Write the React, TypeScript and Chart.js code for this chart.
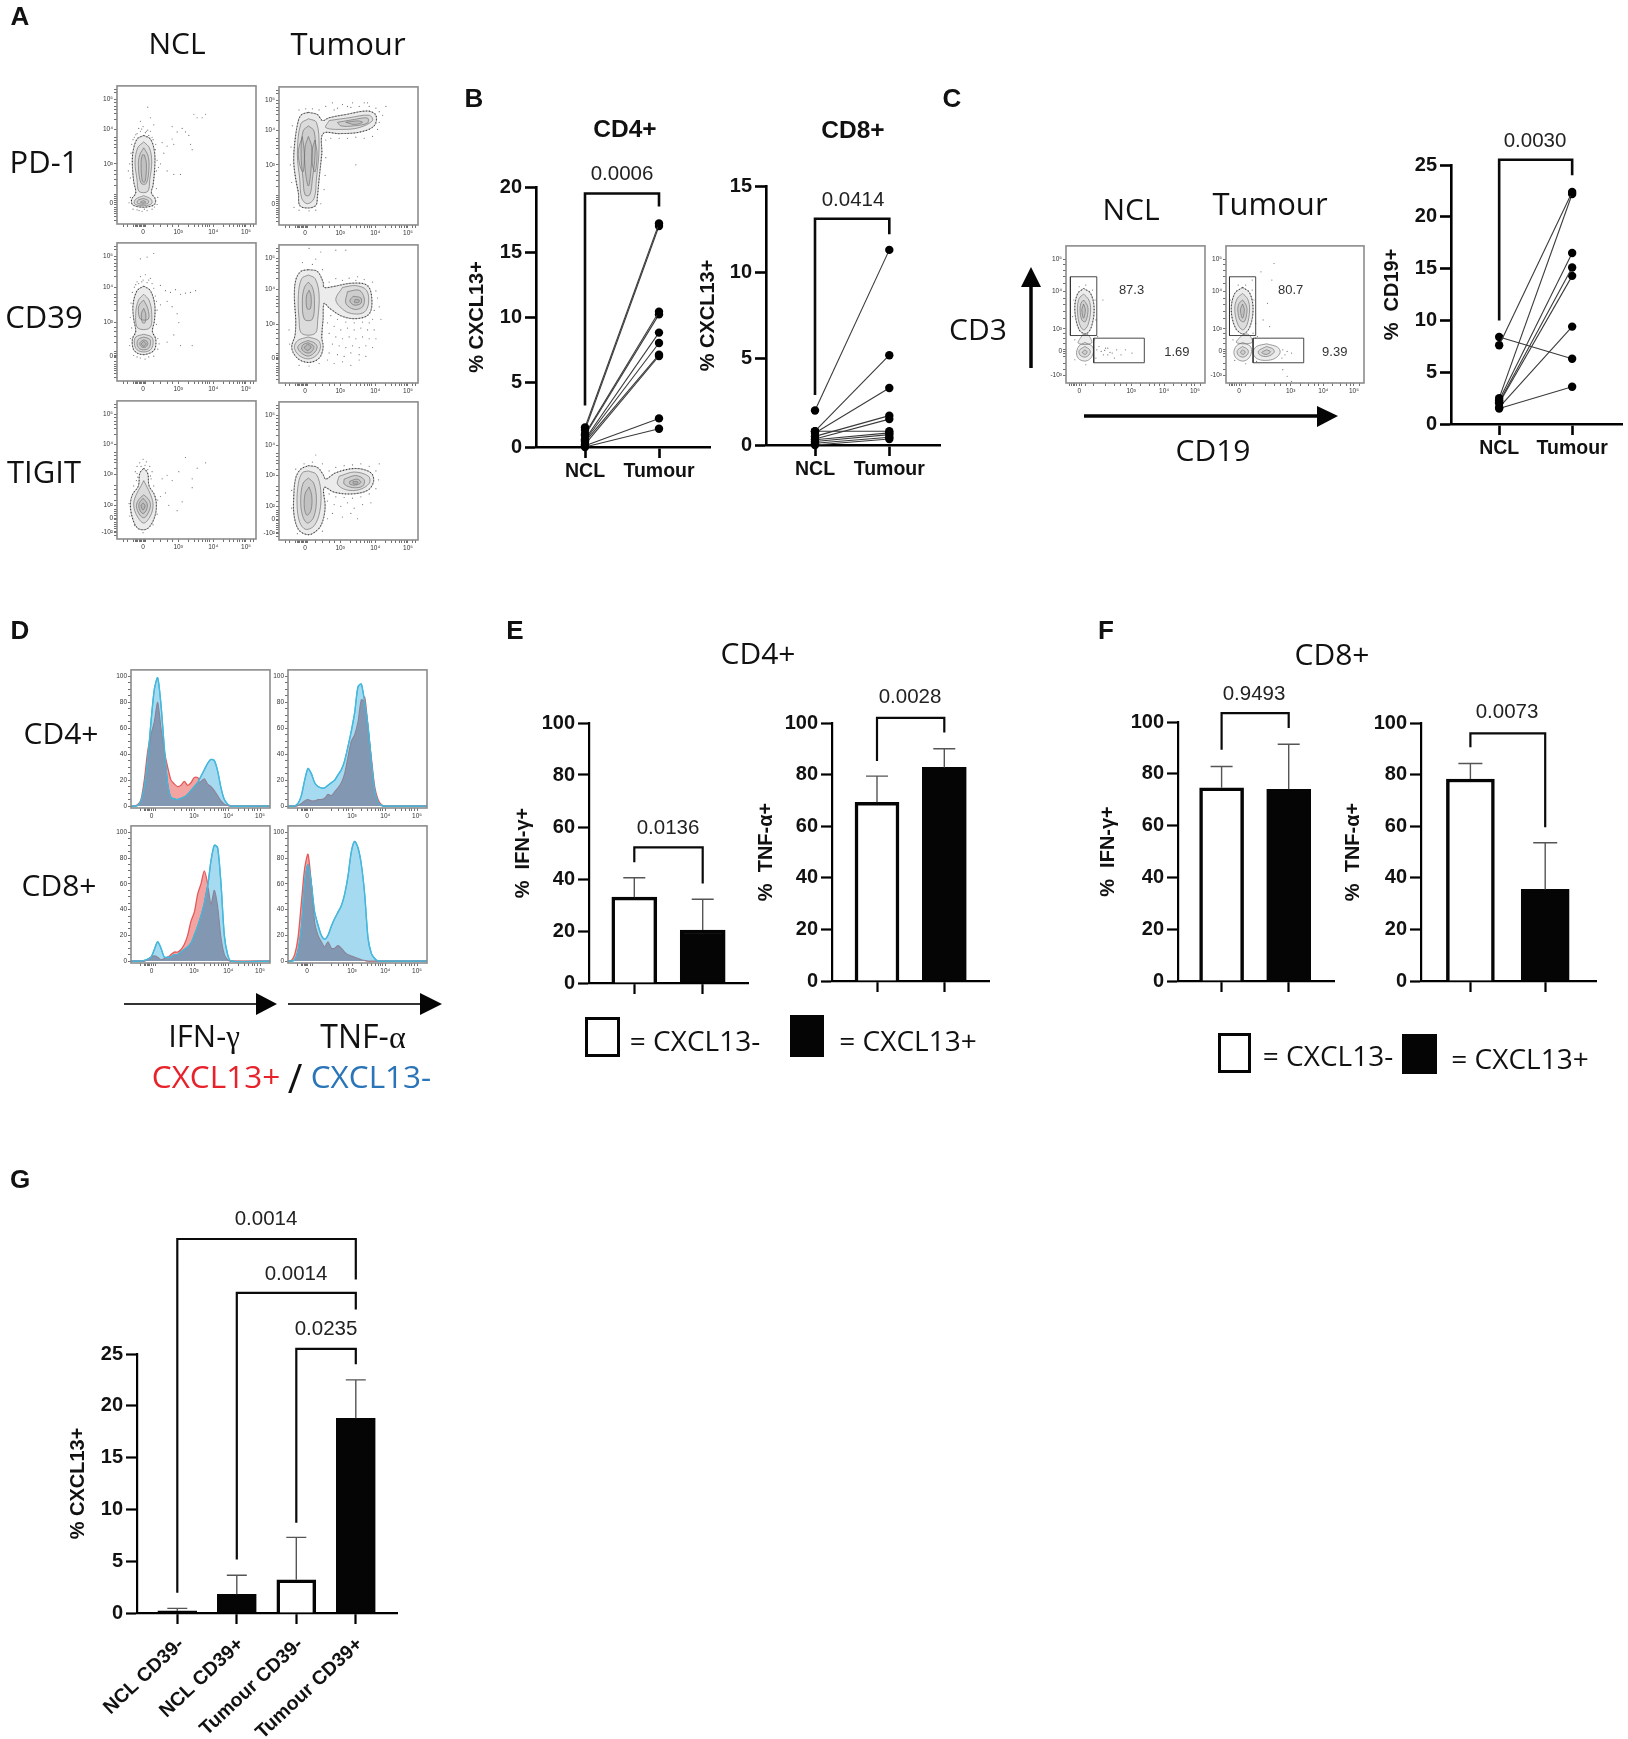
import React, { useEffect, useRef } from 'react';
import { Chart, registerables } from 'chart.js';
Chart.register(...registerables);

const sans = '"Liberation Sans", Arial, sans-serif';
const human = '"Open Sans", sans-serif';

// ---------- Paired data (B, C) ----------
const pairLabels = ['NCL', 'Tumour'];
const cd4Ncl = [1.5, 1.3, 1.0, 0.9, 0.6, 0.5, 0.4, 0.2, 0.1, 0];
const cd4Tumour = [17.2, 17, 10.4, 10.2, 8.8, 8, 7.1, 7, 2.2, 1.4];
const cd8Ncl = [2, 0.8, 0.7, 0.8, 0.5, 0.35, 0.3, 0.2, 0.1, 0];
const cd8Tumour = [11.3, 5.2, 3.3, 0.8, 1.7, 1.5, 0.7, 0.6, 0.45, 0.35];
const cd19Ncl = [7.6, 2.5, 2.3, 2.1, 2.0, 1.6, 8.4, 1.5];
const cd19Tumour = [22.4, 22.2, 16.5, 15.1, 14.3, 9.4, 6.3, 3.6];

// ---------- Bars (E, F, G) ----------
const eIfnMeans = [33, 20.4];
const eIfnTops = [40.5, 32.2];
const eTnfMeans = [69.3, 82.8];
const eTnfTops = [79.4, 90];
const fIfnMeans = [74.6, 74];
const fIfnTops = [82.8, 91.4];
const fTnfMeans = [78.3, 35.5];
const fTnfTops = [84.3, 53.6];
const gLabels = ['NCL CD39-', 'NCL CD39+', 'Tumour CD39-', 'Tumour CD39+'];
const gMeans = [0.2, 1.8, 3.2, 18.8];
const gTops = [0.45, 3.65, 7.3, 22.5];
const whiteBlack = ['#fff', '#050505'];
const gFills = ['#050505', '#050505', '#fff', '#050505'];

// ---------- Histograms (D) ----------
const histChannels = [0,10,20,30,40,50,60,70,80,90,100,110,120,130,140,150,160,170,180,190,200,210,220,230,240,250,260,270,280,290,300,417];
const cd4IfnBlue = [0,0,0.5,4,15,35,65,90,99,78,45,17,6.5,5.5,5,6,7,9,12,15,18,23,28,33,36,35,27,14,5,1.5,0,0];
const cd4IfnRed = [0,0,1,5,20,42,55,65,80,60,42,30,20,17,15,16,19,16,18,22,22,19,21,17,15,12,8,4,1.5,0.5,0,0];
const cd4TnfBlue = [0,0,0,2,8,20,29,25,18,15,14,14,16,18,20,24,28,35,46,58,72,92,94,80,62,35,12,3,0.5,0,0,0];
const cd4TnfRed = [0,0,0,0.5,2,4,5,4,4,5,5,6,9,8,11,14,18,25,38,50,55,65,82,84,60,37,15,5,1,0,0,0];
const cd8IfnBlue = [0,0,0,0,0.5,1.5,3,9,15,10,3,3,3,5,5,7,9,11,14,20,27,35,45,58,78,90,88,60,20,5,0,0];
const cd8IfnRed = [0,0,0,0,0,1,3,4,3,1,2,3,5,7,7,9,13,20,31,38,52,60,70,60,44,55,42,18,5,1,0,0];
const cd8TnfBlue = [0,0,1,8,25,60,75,60,38,28,20,17,20,27,33,38,43,52,66,85,93,88,75,52,18,6,2,0,0,0,0,0];
const cd8TnfRed = [0,0.5,5,18,45,72,83,60,30,20,15,11,15,10,10,12,10,7,5,4,3,2,1,0.5,0,0,0,0,0,0,0,0];
const histYMajor = [0,20,40,60,80,100];
const histYMinor = [5,10,15,25,30,35,45,50,55,65,70,75,85,90,95];
const histXLeft: [number,string][] = [[62,'0'],[189,'10³'],[292,'10⁴'],[387,'10⁵']];
const histXRight: [number,string][] = [[57,'0'],[192,'10³'],[292,'10⁴'],[387,'10⁵']];
const histXMinor = [28,40,44,48,52,56,68,72,130,150,165,175,182,220,238,250,262,270,277,283,323,341,353,363,371,378];

const flowXTicks: [number,string][] = [[78,'0'],[183,'10³'],[288,'10⁴'],[386,'10⁵']];
const flowXMinor = [20,32,50,54,58,62,66,70,74,82,86,110,130,150,165,215,233,245,257,265,272,278,320,338,350,360,368,375,381,400,410];
const flowYTicks: [number,string][] = [[60,'0'],[170,'10³'],[267,'10⁴'],[352,'10⁵']];
const flowYTicks2: [number,string][] = [[69,'0'],[165,'10³'],[264,'10⁴'],[352,'10⁵']];
const flowYTicks3: [number,string][] = [[18,'-10²'],[58,'0'],[95,'10²'],[183,'10³'],[268,'10⁴'],[353,'10⁵']];
const flowYMinor = [10,20,30,36,42,48,54,66,72,78,84,110,125,140,150,200,215,225,235,245,295,312,322,332,342,370,380];

const pd1NclContours = [
  [[80,250],[100,240],[112,205],[113,160],[108,110],[103,88],[115,70],[112,55],[90,48],[68,48],[46,55],[44,70],[56,88],[50,120],[46,165],[48,205],[60,240]],
  [[80,232],[97,215],[104,175],[98,125],[92,92],[66,92],[60,125],[54,175],[62,215]],
  [[80,215],[92,195],[96,165],[88,115],[72,115],[64,165],[68,195]],
  [[82,195],[88,170],[84,120],[76,120],[72,170],[76,195]],
  [[80,80],[102,70],[104,58],[88,52],[68,52],[52,58],[56,70]],
  [[80,72],[94,66],[92,58],[72,56],[60,60],[64,68]],
  [[80,66],[86,62],[78,59],[70,62]],
];
const pd1NclDots = [[60,255],[70,262],[85,258],[95,250],[105,245],[52,245],[65,270],[78,275],[92,265],[100,262],[115,210],[120,180],[118,150],[42,200],[38,170],[40,130],[118,100],[122,75],[40,75],[36,60],[120,55],[60,40],[90,38],[75,36],[105,42],[48,42],[135,230],[150,220],[165,275],[180,260],[165,240],[170,225],[195,270],[205,260],[215,250],[220,225],[230,310],[240,300],[255,300],[265,310],[150,150],[170,140],[190,140],[225,210],[92,330],[100,300],[70,290],[110,280],[130,170],[140,200],[56,252],[74,268],[88,262],[108,238],[116,225],[44,225],[48,238],[124,160],[34,150],[112,48],[66,38],[82,42]];
const cd39NclContours = [
  [[80,268],[100,255],[113,215],[112,170],[106,140],[116,118],[112,88],[90,76],[68,76],[50,88],[46,118],[56,140],[50,175],[48,215],[60,255]],
  [[80,245],[96,228],[104,190],[98,150],[62,150],[56,190],[64,228]],
  [[80,228],[92,205],[94,175],[70,175],[64,205],[70,220]],
  [[80,205],[86,190],[84,165],[76,165],[73,190]],
  [[80,132],[104,124],[108,105],[100,88],[80,82],[60,88],[52,105],[56,124]],
  [[80,124],[98,118],[100,105],[94,92],[80,88],[66,92],[60,105],[64,118]],
  [[80,116],[90,112],[92,105],[86,96],[74,96],[68,105],[72,112]],
  [[80,112],[87,105],[80,98],[73,105]],
];
const cd39NclDots = [[60,280],[70,295],[85,300],[95,285],[105,275],[52,265],[78,285],[65,275],[100,290],[115,240],[120,200],[118,160],[42,220],[40,180],[122,120],[40,120],[38,100],[122,90],[50,72],[70,65],[95,68],[110,70],[130,270],[145,255],[160,250],[175,258],[190,245],[205,248],[220,250],[235,255],[150,225],[165,210],[180,190],[185,165],[170,130],[150,110],[190,100],[225,100],[90,350],[70,345],[110,360],[130,215],[56,272],[74,280],[90,278],[110,262],[46,250],[118,225],[44,150],[126,105],[60,68],[84,62]];
const tigitNclContours = [
  [[80,200],[92,185],[96,150],[112,125],[118,95],[112,60],[95,32],[78,26],[60,32],[46,60],[40,95],[46,125],[64,150],[68,185]],
  [[80,165],[88,150],[102,122],[108,95],[100,65],[80,45],[60,65],[50,95],[56,122],[72,150]],
  [[80,125],[96,110],[100,92],[90,68],[80,60],[68,68],[58,92],[64,110]],
  [[78,115],[90,100],[88,82],[78,72],[68,82],[66,100]],
  [[78,102],[84,94],[78,82],[72,94]],
];
const tigitNclDots = [[60,205],[68,215],[78,225],[88,218],[98,205],[55,190],[105,190],[62,175],[102,170],[110,150],[50,150],[122,110],[36,100],[120,70],[38,65],[108,40],[52,38],[78,18],[135,170],[150,180],[165,165],[185,190],[205,230],[225,170],[240,200],[265,215],[225,145],[195,105],[180,80],[155,95],[130,120],[145,130],[72,205],[84,208],[92,196],[60,185],[100,178],[58,165]];
const pd1TumContours = [
  [[88,318],[115,312],[130,295],[150,303],[200,312],[265,322],[290,310],[285,280],[240,262],[180,258],[132,258],[128,200],[120,130],[115,80],[110,55],[85,48],[62,55],[58,90],[50,130],[44,180],[48,240],[58,295],[68,312]],
  [[88,300],[112,290],[120,220],[112,130],[105,75],[85,60],[68,75],[62,130],[55,200],[65,285]],
  [[88,280],[105,265],[108,200],[100,130],[92,85],[78,85],[72,130],[66,200],[72,265]],
  [[88,250],[98,220],[96,160],[88,110],[78,160],[78,220]],
  [[70,250],[76,200],[72,150],[62,170],[58,210]],
  [[108,240],[114,200],[108,150],[100,170],[100,215]],
  [[150,295],[210,303],[270,310],[280,295],[240,275],[190,270],[140,275]],
  [[175,290],[225,298],[265,302],[265,288],[225,280],[185,280]],
  [[200,290],[235,294],[250,290],[225,284]],
];
const pd1TumDots = [[140,335],[160,345],[175,330],[190,340],[205,335],[220,345],[240,335],[255,345],[270,335],[290,330],[300,320],[310,310],[300,290],[295,270],[280,250],[255,245],[230,248],[205,245],[180,245],[155,245],[140,240],[165,325],[215,332],[265,345],[120,325],[60,325],[80,328],[100,328],[40,280],[36,220],[34,170],[38,120],[140,190],[138,140],[135,100],[125,60],[45,50],[60,42],[90,40],[110,42],[230,170],[320,335]];
const cd39TumContours = [
  [[88,320],[115,315],[132,285],[135,270],[160,272],[220,282],[265,275],[278,235],[270,195],[235,182],[190,188],[150,212],[135,225],[132,180],[128,130],[132,100],[120,70],[88,58],[55,70],[38,100],[48,135],[50,180],[46,240],[50,290],[65,315]],
  [[88,305],[108,295],[120,250],[116,180],[108,140],[68,140],[60,180],[58,250],[68,295]],
  [[88,285],[100,270],[106,235],[100,180],[76,180],[70,235],[76,270]],
  [[90,262],[96,245],[94,210],[84,210],[82,245]],
  [[87,130],[118,120],[124,100],[112,78],[87,68],[60,78],[46,100],[56,120]],
  [[87,120],[108,112],[114,100],[104,84],[87,76],[68,84],[56,100],[66,112]],
  [[87,114],[102,106],[104,98],[94,86],[80,86],[68,96],[72,108]],
  [[86,110],[96,102],[86,92],[76,100]],
  [[190,270],[230,275],[262,262],[268,225],[255,200],[225,195],[195,205],[170,235]],
  [[205,258],[240,262],[255,240],[250,215],[225,208],[200,225]],
  [[222,245],[245,240],[245,225],[225,220],[212,232]],
  [[228,236],[240,234],[238,228],[226,228]],
];
const cd39TumDots = [[150,285],[170,295],[190,290],[210,296],[235,300],[255,292],[280,285],[290,260],[295,240],[285,205],[280,180],[300,215],[305,180],[270,170],[250,172],[225,170],[200,172],[175,180],[155,190],[145,170],[165,160],[185,150],[205,155],[225,150],[245,155],[265,150],[285,150],[150,140],[170,130],[190,125],[210,130],[230,125],[250,130],[270,125],[290,125],[160,110],[180,105],[200,100],[220,105],[240,100],[260,105],[280,100],[150,85],[175,80],[195,75],[215,85],[240,80],[260,75],[145,65],[165,55],[190,60],[215,50],[240,65],[110,350],[100,335],[70,340],[130,320],[90,380],[125,370],[170,375],[200,375],[230,290],[30,150],[32,110],[90,48],[60,50],[120,55]];
const tigitTumContours = [
  [[88,210],[115,205],[132,185],[140,172],[170,190],[230,202],[275,190],[283,165],[265,140],[215,130],[165,135],[135,148],[138,90],[125,40],[100,18],[80,16],[58,30],[45,70],[44,120],[50,175],[65,200]],
  [[88,195],[112,185],[125,140],[122,80],[105,40],[80,30],[62,50],[54,100],[58,160],[70,190]],
  [[88,175],[104,160],[112,115],[104,65],[85,48],[70,70],[65,115],[72,160]],
  [[90,150],[98,125],[96,85],[84,70],[76,90],[78,130]],
  [[180,180],[225,192],[268,180],[270,160],[240,142],[200,142],[175,158]],
  [[195,172],[230,182],[255,170],[250,152],[220,148],[195,158]],
  [[212,166],[235,172],[245,162],[228,155],[212,158]],
  [[222,165],[236,164],[232,158],[222,160]],
];
const tigitTumDots = [[150,195],[170,205],[195,210],[220,212],[245,215],[270,208],[290,195],[298,170],[290,145],[270,130],[245,122],[220,118],[195,120],[170,122],[150,130],[145,110],[165,100],[185,95],[205,105],[225,90],[250,100],[275,105],[160,75],[190,65],[215,75],[235,60],[145,60],[130,215],[100,220],[75,215],[50,200],[38,140],[38,90],[130,25],[55,18],[110,240],[300,215]];

const cXTicks: [number,string][] = [[30,'0'],[148,'10³'],[223,'10⁴'],[293,'10⁵']];
const cYTicks: [number,string][] = [[23,'-10³'],[95,'0'],[163,'10³'],[276,'10⁴'],[373,'10⁵']];
const cXMinor = [8,12,16,20,24,36,44,62,90,110,125,138,170,190,202,212,245,262,275,285,305];
const cYMinor = [40,60,80,88,102,120,135,150,195,215,235,255,300,320,340,358];
const cNclContours = [
  [[40,285],[56,270],[64,225],[58,170],[46,148],[30,160],[20,220],[26,268]],
  [[40,268],[52,250],[56,220],[50,175],[40,160],[30,180],[26,225],[30,255]],
  [[40,250],[48,235],[50,215],[44,185],[36,190],[32,220],[34,240]],
  [[40,238],[44,220],[40,195],[36,220]],
  [[38,146],[50,146],[58,120],[28,120]],
  [[43,122],[60,110],[62,90],[54,72],[42,66],[28,74],[24,92],[30,112]],
  [[43,110],[54,100],[54,88],[44,78],[32,84],[30,98]],
  [[43,100],[48,94],[44,86],[37,92]],
];
const cNclDots = [[30,290],[45,295],[60,280],[18,250],[66,250],[15,200],[68,190],[72,140],[20,130],[65,130],[68,75],[20,70],[45,55],[70,100],[80,95],[90,105],[95,85],[105,90],[115,100],[125,85],[135,100],[85,85],[75,110],[110,75],[150,90],[95,105],[88,98],[100,92],[84,250]];
const cTumContours = [
  [[38,288],[54,272],[62,225],[55,170],[40,148],[22,165],[12,220],[20,270]],
  [[38,270],[50,252],[54,220],[48,175],[38,160],[26,180],[20,225],[26,255]],
  [[38,250],[46,235],[48,215],[42,185],[32,190],[27,220],[30,240]],
  [[38,238],[42,220],[38,195],[33,220]],
  [[38,146],[52,146],[60,122],[24,122]],
  [[38,122],[56,110],[58,90],[50,72],[38,66],[24,74],[18,92],[24,112]],
  [[38,110],[50,100],[50,88],[40,78],[28,84],[26,98]],
  [[38,100],[44,94],[40,86],[33,92]],
  [[93,118],[118,108],[124,92],[112,74],[90,68],[70,74],[62,92],[70,110]],
  [[93,110],[108,102],[110,92],[95,80],[78,84],[74,96]],
  [[93,100],[102,94],[92,86],[82,92]],
];
const cTumDots = [[28,295],[45,295],[60,280],[10,250],[64,250],[8,200],[68,180],[72,140],[16,130],[68,135],[62,150],[70,65],[20,68],[45,58],[130,100],[135,85],[140,95],[150,90],[128,75],[60,310],[80,335],[105,310],[85,190],[100,170],[130,40],[140,20],[150,5],[110,360],[95,240]];
const cGateUpperNcl = [[10,143],[70,143],[70,320],[10,320],[10,143]];
const cGateLowerNcl = [[63,61],[178,61],[178,135],[63,135],[63,61]];
const cGateUpperTum = [[8,143],[68,143],[68,320],[8,320],[8,143]];
const cGateLowerTum = [[62,61],[178,61],[178,135],[62,135],[62,61]];

// ---------- helpers ----------
type Geo = { x0:number; x1:number; y0:number; y1:number; labelX?:number; padL?:number; padT:number; padR:number; padB:number };
const boxOf = (g:Geo) => {
  const padL = g.labelX !== undefined ? g.x0 - (g.labelX - 12) : (g.padL as number);
  return { padL, left:g.x0 - padL, top:g.y0 - g.padT, width:g.x1 - g.x0 + padL + g.padR, height:g.y1 - g.y0 + g.padT + g.padB };
};
const line = (pts:number[][], color:string, width:number, extra:any = {}) => ({
  type:'line', data:pts.map(([x,y]) => ({x,y})), borderColor:color, borderWidth:width, pointRadius:0, fill:false, clip:false, tension:0, ...extra,
});
const base = (g:Geo, scales:any, plugins:any = {}) => {
  const b = boxOf(g);
  scales.x.afterFit = (s:any) => { s.height = g.padB; };
  scales.y.afterFit = (s:any) => { s.width = b.padL; };
  return {
    responsive:false, maintainAspectRatio:false, animation:false, devicePixelRatio:1, events:[],
    layout:{ padding:{ top:g.padT, right:g.padR, left:0, bottom:0 } },
    plugins:{ legend:{display:false}, tooltip:{enabled:false}, title:{display:false}, ...plugins },
    scales,
  };
};
const prismScales = (g:Geo, p0:number, gap:number, xLabels:string[], yMax:number, yStep:number, yTitle:string, w:number, rot = 0, labelPad = 2, labelShift = 0) => ({
  x: {
    type:'linear', offset:false, min:(g.x0 - p0) / gap, max:(g.x1 - p0) / gap,
    afterBuildTicks:(s:any) => { s.ticks = xLabels.map((_, i) => ({ value:i })); },
    grid:{ display:true, drawOnChartArea:false, drawTicks:true, tickLength:11, tickWidth:w, tickColor:'#000', offset:false },
    border:{ display:true, color:'#000', width:w },
    ticks:{ autoSkip:false, minRotation:rot, maxRotation:rot, padding:labelPad, labelOffset:labelShift, color:'#111', font:{ family:sans, size:19.5, weight:'bold' }, callback:(v:any) => xLabels[Math.round(v)] ?? '' },
  },
  y: {
    type:'linear', min:0, max:yMax,
    grid:{ display:true, drawOnChartArea:false, drawTicks:true, tickLength:11, tickWidth:w, tickColor:'#000' },
    border:{ display:true, color:'#000', width:w },
    ticks:{ stepSize:yStep, padding:3, color:'#111', font:{ family:sans, size:20, weight:'bold' } },
    title:{ display:true, text:yTitle, color:'#111', padding:0, font:{ family:sans, size:20, weight:'bold' } },
  },
});
const bracket = (xa:number, bottomA:number, top:number, xb:number, bottomB:number, w = 2.6) =>
  line([[xa,bottomA],[xa,top],[xb,top],[xb,bottomB]], '#0a0a0a', w, { borderJoinStyle:'miter' });

function pairedConfig(g:Geo, p0:number, gap:number, ncl:number[], tumour:number[], yMax:number, yStep:number, yTitle:string, br:number[]) {
  const b = boxOf(g);
  const pairs = ncl.map((n, i) => line([[0,n],[1,tumour[i]]], '#3a3a3a', 1.1, { pointRadius:4.2, pointBackgroundColor:'#000', pointBorderColor:'#000', pointBorderWidth:0 }));
  return { b, config:{ type:'line', data:{ datasets:[bracket(0, br[0], br[1], 1, br[2]), ...pairs] }, options:base(g, prismScales(g, p0, gap, pairLabels, yMax, yStep, yTitle, 2.6)) } };
}
function barConfig(g:Geo, p0:number, gap:number, means:number[], tops:number[], fills:string[], barPx:number, capPx:number, yMax:number, yStep:number, yTitle:string, brackets:number[][], xLabels:string[] = ['', ''], rot = 0, labelPad = 2, labelShift = 0) {
  const b = boxOf(g);
  const c = capPx / 2 / gap;
  const errs = means.map((m, i) => line([[i,m],[i,tops[i]],[i - c,tops[i]],[i + c,tops[i]]], '#555', 1.4, { borderJoinStyle:'miter' }));
  const brs = brackets.map((r) => bracket(r[0], r[1], r[2], r[3], r[4], 2.2));
  const bars = { type:'bar', data:means.map((y, i) => ({ x:i, y })), backgroundColor:fills, borderColor:'#050505', borderWidth:3.5, barThickness:barPx, borderSkipped:'bottom' };
  return { b, config:{ type:'bar', data:{ datasets:[...brs, ...errs, bars] }, options:base(g, prismScales(g, p0, gap, xLabels, yMax, yStep, yTitle, 2.2, rot, labelPad, labelShift)) } };
}
const framePlugin = { id:'frame', afterDatasetsDraw(chart:any) {
  const a = chart.chartArea, ctx = chart.ctx;
  ctx.save(); ctx.strokeStyle = '#8c8c8c'; ctx.lineWidth = 1.6; ctx.strokeRect(a.left, a.top, a.right - a.left, a.bottom - a.top); ctx.restore();
} };
const notesPlugin = (notes:any[]) => ({ id:'notes', afterDatasetsDraw(chart:any) {
  const ctx = chart.ctx; ctx.save(); ctx.fillStyle = '#333'; ctx.font = `13px ${sans}`; ctx.textAlign = 'center'; ctx.textBaseline = 'middle';
  notes.forEach((n) => ctx.fillText(n.text, chart.scales.x.getPixelForValue(n.x), chart.scales.y.getPixelForValue(n.y)));
  ctx.restore();
} });
const tinyScale = (min:number, max:number, major:[number,string][], minor:number[]) => {
  const map = new Map(major.map(([v, l]) => [v, l]));
  const all = [...major.map(([v]) => v), ...minor].sort((p, q) => p - q);
  return {
    type:'linear', min, max, offset:false,
    afterBuildTicks:(s:any) => { s.ticks = all.map((value) => ({ value })); },
    grid:{ display:true, drawOnChartArea:false, drawTicks:true, tickLength:3, tickWidth:0.7, tickColor:'#333', offset:false },
    border:{ display:false },
    ticks:{ autoSkip:false, maxRotation:0, minRotation:0, padding:1, color:'#333', font:{ family:sans, size:6.5 }, callback:(v:any) => map.get(v) ?? '' },
  };
};
function flowConfig(g:Geo, xMax:number, yMax:number, xT:[number,string][], xM:number[], yT:[number,string][], yM:number[], contours:number[][][], dots:number[][], gates:number[][][] = [], notes:any[] = []) {
  const b = boxOf(g);
  const ds:any[] = [];
  gates.forEach((q) => ds.push(line(q, '#333', 0.9)));
  ds.push({ type:'scatter', data:dots.map(([x, y]) => ({ x, y })), pointRadius:0.6, pointBorderWidth:0, pointBackgroundColor:'rgba(40,40,40,0.65)', clip:false });
  const shapes:any[] = [];
  contours.forEach((q, i) => {
    const closed = [...q, q[0]];
    shapes.unshift(line(closed, 'rgba(105,105,105,0.8)', 0.8, { tension:0.35, fill:'shape', backgroundColor:'rgba(120,120,120,0.14)' }));
    if (i === 0) ds.push(line(closed, 'rgba(30,30,30,0.8)', 1.1, { tension:0.35, borderDash:[0.9, 2.2] }));
  });
  return { b, config:{ type:'scatter', data:{ datasets:[...ds, ...shapes] }, options:base(g, { x:tinyScale(0, xMax, xT, xM), y:tinyScale(0, yMax, yT, yM) }), plugins:[framePlugin, notesPlugin(notes)] } };
}
function histConfig(g:Geo, red:number[], blue:number[], xT:[number,string][]) {
  const b = boxOf(g);
  const pts = (v:number[]) => histChannels.map((c, i) => [c, v[i]]);
  const overlap = red.map((v, i) => Math.min(v, blue[i]));
  const fillOf = (color:string) => ({ fill:'origin', backgroundColor:color, tension:0.25 });
  const ds = [
    line(pts(blue), '#45b8dc', 1.3, { tension:0.25 }),
    line(pts(overlap), '#8c8296', 1.1, fillOf('#8298b2')),
    line(pts(blue), '#45b8dc', 1.3, fillOf('#a6daf0')),
    line(pts(red), '#e45a5a', 1.3, fillOf('#f4a3a3')),
  ];
  const yT = histYMajor.map((v) => [v, String(v)] as [number,string]);
  return { b, config:{ type:'line', data:{ datasets:ds }, options:base(g, { x:tinyScale(0, 417, xT, histXMinor), y:tinyScale(-1.5, 105, yT, histYMinor) }), plugins:[framePlugin] } };
}
const fg = (x0:number, y0:number, w = 139, h = 139):Geo => ({ x0, x1:x0 + w, y0, y1:y0 + h, padL:26, padT:4, padR:4, padB:16 });

const panels = [
  // A
  flowConfig(fg(117,85), 416, 390, flowXTicks, flowXMinor, flowYTicks, flowYMinor, pd1NclContours, pd1NclDots),
  flowConfig(fg(279,86), 416, 390, flowXTicks, flowXMinor, flowYTicks, flowYMinor, pd1TumContours, pd1TumDots),
  flowConfig(fg(117,242), 416, 390, flowXTicks, flowXMinor, flowYTicks2, flowYMinor, cd39NclContours, cd39NclDots),
  flowConfig(fg(279,244), 416, 390, flowXTicks, flowXMinor, flowYTicks2, flowYMinor, cd39TumContours, cd39TumDots),
  flowConfig(fg(117,400), 416, 390, flowXTicks, flowXMinor, flowYTicks3, flowYMinor, tigitNclContours, tigitNclDots),
  flowConfig(fg(279,401), 416, 390, flowXTicks, flowXMinor, flowYTicks3, flowYMinor, tigitTumContours, tigitTumDots),
  // B
  pairedConfig({ x0:536, x1:710, y0:187, y1:447, labelX:477, padT:26, padR:12, padB:40 }, 585, 74, cd4Ncl, cd4Tumour, 20, 5, '% CXCL13+', [3.2, 19.5, 18.5]),
  pairedConfig({ x0:766, x1:940, y0:186, y1:445, labelX:708, padT:26, padR:12, padB:40 }, 815, 74.3, cd8Ncl, cd8Tumour, 15, 5, '% CXCL13+', [2.9, 13.1, 12.2]),
  // C
  flowConfig(fg(1066,245,139,138), 316, 413, cXTicks, cXMinor, cYTicks, cYMinor, cNclContours, cNclDots, [cGateUpperNcl, cGateLowerNcl], [{ x:149, y:280, text:'87.3' }, { x:252, y:93, text:'1.69' }]),
  flowConfig(fg(1226,245,138,138), 316, 413, cXTicks, cXMinor, cYTicks, cYMinor, cTumContours, cTumDots, [cGateUpperTum, cGateLowerTum], [{ x:148, y:280, text:'80.7' }, { x:249, y:93, text:'9.39' }]),
  pairedConfig({ x0:1451, x1:1624, y0:165, y1:424, labelX:1392, padT:26, padR:3, padB:40 }, 1499.5, 73.5, cd19Ncl, cd19Tumour, 25, 5, '%  CD19+', [10, 25.5, 24]),
  // D
  histConfig({ x0:131, x1:270, y0:669, y1:808, padL:24, padT:4, padR:4, padB:16 }, cd4IfnRed, cd4IfnBlue, histXLeft),
  histConfig({ x0:288, x1:427, y0:669, y1:808, padL:16, padT:4, padR:4, padB:16 }, cd4TnfRed, cd4TnfBlue, histXRight),
  histConfig({ x0:131, x1:270, y0:825, y1:963, padL:24, padT:4, padR:4, padB:16 }, cd8IfnRed, cd8IfnBlue, histXLeft),
  histConfig({ x0:288, x1:427, y0:825, y1:963, padL:16, padT:4, padR:4, padB:16 }, cd8TnfRed, cd8TnfBlue, histXRight),
  // E
  barConfig({ x0:589, x1:748, y0:723, y1:983, labelX:523, padT:30, padR:6, padB:16 }, 634.3, 68.4, eIfnMeans, eIfnTops, whiteBlack, 45, 22, 100, 20, '%  IFN-γ+', [[0, 46.4, 52.2, 1, 38.3]]),
  barConfig({ x0:832, x1:989, y0:723, y1:981, labelX:766, padT:30, padR:6, padB:16 }, 877, 67.3, eTnfMeans, eTnfTops, whiteBlack, 44, 22, 100, 20, '%  TNF-α+', [[0, 85.3, 102, 1, 96.3]]),
  // F
  barConfig({ x0:1178, x1:1334, y0:722, y1:981, labelX:1108, padT:30, padR:6, padB:16 }, 1221.6, 67.1, fIfnMeans, fIfnTops, whiteBlack, 44, 22, 100, 20, '%  IFN-γ+', [[0, 89.3, 103.4, 1, 97.7]]),
  barConfig({ x0:1421, x1:1596, y0:723, y1:981, labelX:1353, padT:30, padR:6, padB:16 }, 1470.4, 74.8, fTnfMeans, fTnfTops, whiteBlack, 48, 24, 100, 20, '%  TNF-α+', [[0, 90.6, 96, 1, 59.6]]),
  // G
  barConfig({ x0:137, x1:397, y0:1354, y1:1613, labelX:78, padT:120, padR:6, padB:126 }, 177.3, 59.5, gMeans, gTops, gFills, 39, 20, 25, 5, '% CXCL13+',
    [[0, 1.96, 36.1, 3, 32.2], [1, 5.16, 30.9, 3, 29.3], [2, 8.7, 25.5, 3, 24]], gLabels, 43, 9, 4),
];

// ---------- text ----------
type Txt = { t:any; x:number; y:number; s:number; w?:any; c?:string; f?:string };
const texts:Txt[] = [
  { t:'A', x:20, y:16, s:26, w:700, f:sans }, { t:'B', x:474, y:98, s:26, w:700, f:sans }, { t:'C', x:952, y:98, s:26, w:700, f:sans },
  { t:'D', x:20, y:630, s:26, w:700, f:sans }, { t:'E', x:515, y:630, s:26, w:700, f:sans }, { t:'F', x:1106, y:630, s:26, w:700, f:sans }, { t:'G', x:20, y:1179, s:26, w:700, f:sans },
  { t:'NCL', x:177, y:43, s:30 }, { t:'Tumour', x:348, y:43, s:31 }, { t:'PD-1', x:44, y:161, s:31 }, { t:'CD39', x:44, y:316, s:31 }, { t:'TIGIT', x:44, y:471, s:31 },
  { t:'CD4+', x:625, y:129, s:24.5, w:700, f:sans }, { t:'CD8+', x:853, y:130, s:24.5, w:700, f:sans },
  { t:'0.0006', x:622, y:173, s:20.5, f:sans, c:'#222' }, { t:'0.0414', x:853, y:199, s:20.5, f:sans, c:'#222' }, { t:'0.0030', x:1535, y:140, s:20.5, f:sans, c:'#222' },
  { t:'NCL', x:1131, y:209, s:30 }, { t:'Tumour', x:1270, y:203, s:31 }, { t:'CD3', x:978, y:329, s:30 }, { t:'CD19', x:1213, y:450, s:30 },
  { t:'CD4+', x:61, y:733, s:30 }, { t:'CD8+', x:59, y:885, s:30 },
  { t:<>IFN-<span style={{ fontFamily:'"Liberation Serif", serif' }}>γ</span></>, x:204, y:1036, s:31 },
  { t:<>TNF-<span style={{ fontFamily:'"Liberation Serif", serif' }}>α</span></>, x:363, y:1036, s:32 },
  { t:'CXCL13+', x:216, y:1076, s:31.5, c:'#e8222a' }, { t:'/', x:295, y:1078, s:40, c:'#111' }, { t:'CXCL13-', x:371, y:1076, s:31.5, c:'#2a74b8' },
  { t:'CD4+', x:758, y:653, s:30 }, { t:'CD8+', x:1332, y:654, s:30 },
  { t:'0.0136', x:668, y:827, s:20.5, f:sans, c:'#222' }, { t:'0.0028', x:910, y:696, s:20.5, f:sans, c:'#222' }, { t:'0.9493', x:1254, y:693, s:20.5, f:sans, c:'#222' }, { t:'0.0073', x:1507, y:711, s:20.5, f:sans, c:'#222' },
  { t:'= CXCL13-', x:695, y:1040, s:28 }, { t:'= CXCL13+', x:908, y:1040, s:28 }, { t:'= CXCL13-', x:1328, y:1055, s:28 }, { t:'= CXCL13+', x:1520, y:1058, s:28 },
  { t:'0.0014', x:266, y:1218, s:20.5, f:sans, c:'#222' }, { t:'0.0014', x:296, y:1273, s:20.5, f:sans, c:'#222' }, { t:'0.0235', x:326, y:1328, s:20.5, f:sans, c:'#222' },
];
const legendBoxes = [
  { x:585, y:1017, w:35, h:40, fill:'#fff' }, { x:790, y:1015, w:34, h:42, fill:'#050505' },
  { x:1218, y:1033, w:33, h:40, fill:'#fff' }, { x:1402, y:1034, w:35, h:40, fill:'#050505' },
];

function ChartCanvas({ p }:{ p:any }) {
  const ref = useRef<HTMLCanvasElement | null>(null);
  useEffect(() => {
    const chart = new Chart(ref.current as any, p.config);
    return () => chart.destroy();
  }, []);
  const b = p.b;
  return <canvas ref={ref} width={b.width} height={b.height} style={{ position:'absolute', left:b.left, top:b.top, width:b.width, height:b.height }} />;
}

export default function App() {
  useEffect(() => { document.body.style.margin = '0'; document.body.style.background = '#fff'; }, []);
  return (
    <div style={{ position:'absolute', left:0, top:0, width:1628, height:1739, background:'#fff', overflow:'hidden' }}>
      {panels.map((p, i) => <ChartCanvas key={i} p={p} />)}
      <svg width={1628} height={1739} style={{ position:'absolute', left:0, top:0, pointerEvents:'none' }}>
        <line x1={1031} y1={368} x2={1031} y2={285} stroke="#050505" strokeWidth={3.5} />
        <polygon points="1031,267 1021,287 1041,287" fill="#050505" />
        <line x1={1084} y1={416} x2={1318} y2={416} stroke="#050505" strokeWidth={3.5} />
        <polygon points="1338,416 1317,406 1317,427" fill="#050505" />
        <line x1={124} y1={1004} x2={257} y2={1004} stroke="#333" strokeWidth={2} />
        <polygon points="277,1004 256,993 256,1015" fill="#050505" />
        <line x1={288} y1={1004} x2={421} y2={1004} stroke="#333" strokeWidth={2} />
        <polygon points="442,1004 420,993 420,1015" fill="#050505" />
      </svg>
      {legendBoxes.map((q, i) => <div key={i} style={{ position:'absolute', boxSizing:'border-box', left:q.x, top:q.y, width:q.w, height:q.h, background:q.fill, border:'3.5px solid #050505' }} />)}
      {texts.map((q, i) => (
        <div key={i} style={{ position:'absolute', left:q.x, top:q.y, transform:'translate(-50%,-50%)', whiteSpace:'nowrap', lineHeight:1, fontFamily:q.f ?? human, fontSize:q.s, fontWeight:q.w ?? 400, color:q.c ?? '#111' }}>{q.t}</div>
      ))}
    </div>
  );
}
